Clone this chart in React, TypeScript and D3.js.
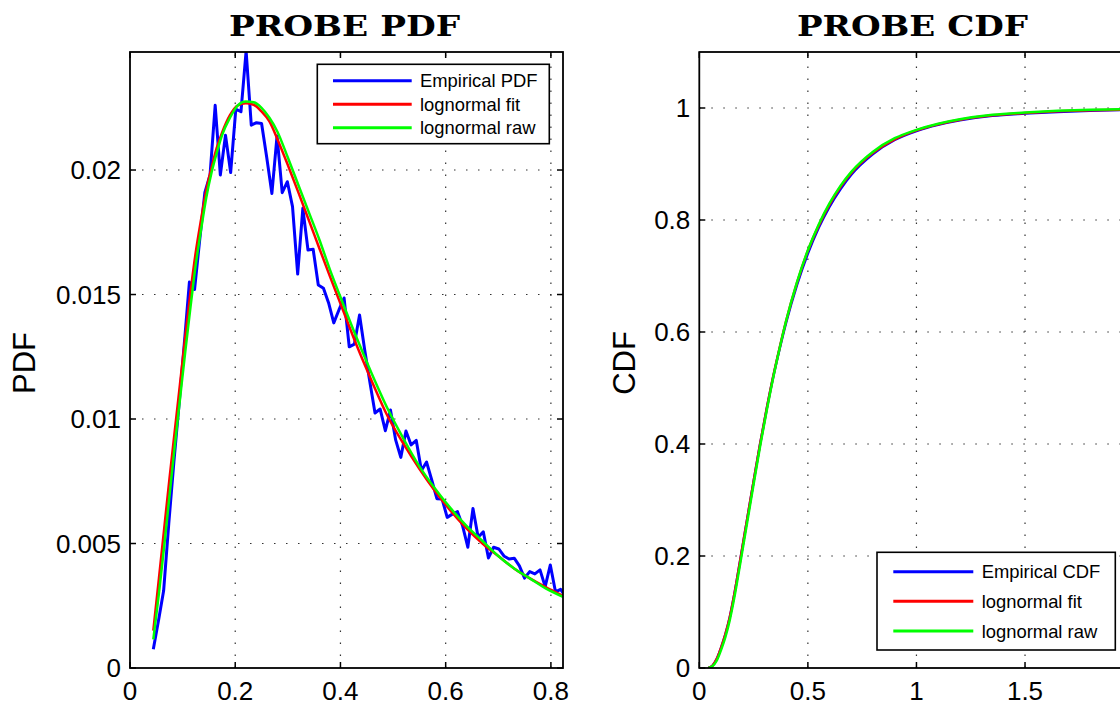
import React from 'react';
import * as d3 from 'd3';

// ---------------- DATA ----------------
// Empirical PDF (bin centres and values)
const pdfX = [
  0.0443, 0.0541, 0.0639, 0.0737, 0.0835, 0.0933, 0.1031, 0.1129, 0.1227, 0.1325,
  0.1423, 0.1521, 0.1619, 0.1717, 0.1815, 0.1913, 0.2011, 0.2109, 0.2207, 0.2305,
  0.2403, 0.2501, 0.2599, 0.2697, 0.2795, 0.2893, 0.2991, 0.3089, 0.3187, 0.3285,
  0.3383, 0.3481, 0.3579, 0.3677, 0.3775, 0.3873, 0.3971, 0.4069, 0.4167, 0.4265,
  0.4363, 0.4461, 0.4559, 0.4657, 0.4755, 0.4853, 0.4951, 0.5049, 0.5147, 0.5245,
  0.5343, 0.5441, 0.5539, 0.5637, 0.5735, 0.5833, 0.5931, 0.6029, 0.6127, 0.6225,
  0.6323, 0.6421, 0.6519, 0.6617, 0.6715, 0.6813, 0.6911, 0.7009, 0.7107, 0.7205,
  0.7303, 0.7401, 0.7499, 0.7597, 0.7695, 0.7793, 0.7891, 0.7989, 0.8087, 0.8185,
  0.8283,
];
const pdfEmpirical = [
  0.00075, 0.0019, 0.0031, 0.0058, 0.0083, 0.0106, 0.0130, 0.0155, 0.0152, 0.0172,
  0.0191, 0.0198, 0.0226, 0.0198, 0.0214, 0.0199, 0.02245, 0.02234, 0.02478, 0.0218,
  0.0219, 0.02187, 0.0205, 0.01906, 0.02137, 0.01909, 0.01953, 0.01853, 0.01582, 0.01846,
  0.01679, 0.01682, 0.01538, 0.01525, 0.01466, 0.01386, 0.01438, 0.01486, 0.0129, 0.01301,
  0.01418, 0.01277, 0.01149, 0.01024, 0.0104, 0.00953, 0.01036, 0.00916, 0.00846, 0.00952,
  0.00896, 0.00914, 0.00793, 0.00827, 0.00755, 0.0068, 0.00679, 0.00605, 0.00618, 0.00628,
  0.0057, 0.00485, 0.00641, 0.00525, 0.00547, 0.00442, 0.00485, 0.00478, 0.0045, 0.00438,
  0.00441, 0.0041, 0.00361, 0.00387, 0.00378, 0.00394, 0.00327, 0.00414, 0.00306, 0.00316,
  0.00285,
];
// Lognormal curves (PDF)
const pdfCurveX = [
  0.0443, 0.055, 0.065, 0.075, 0.085, 0.095, 0.105, 0.115, 0.125, 0.135,
  0.145, 0.155, 0.165, 0.175, 0.19, 0.205, 0.22, 0.235, 0.25, 0.265,
  0.28, 0.30, 0.32, 0.34, 0.36, 0.38, 0.40, 0.43, 0.46, 0.49,
  0.52, 0.55, 0.58, 0.61, 0.64, 0.67, 0.70, 0.73, 0.76, 0.79, 0.823,
];
const pdfFit = [
  0.0015, 0.0036, 0.0056, 0.0076, 0.0095, 0.0114, 0.0133, 0.0151, 0.0167, 0.0180,
  0.0192, 0.0201, 0.0209, 0.0215, 0.0222, 0.0226, 0.02268, 0.02262, 0.02235, 0.02195,
  0.02125, 0.0202, 0.0191, 0.01798, 0.01685, 0.01573, 0.01464, 0.0130, 0.0115, 0.0101,
  0.0090, 0.0080, 0.0071, 0.0063, 0.0056, 0.0050, 0.0045, 0.0040, 0.0036, 0.00325, 0.0029,
];
const pdfRaw = [
  0.00115, 0.0030, 0.0049, 0.0069, 0.0089, 0.0108, 0.0127, 0.0145, 0.0162, 0.0176,
  0.0189, 0.0199, 0.0207, 0.0214, 0.0221, 0.0226, 0.02275, 0.02272, 0.0225, 0.0221,
  0.02155, 0.0205, 0.0194, 0.0183, 0.0172, 0.0160, 0.0149, 0.0133, 0.0118, 0.0104,
  0.0092, 0.0081, 0.0072, 0.0064, 0.0057, 0.0051, 0.0045, 0.0040, 0.0036, 0.0032, 0.00286,
];
// CDF curves
const cdfX = [
  0.0414, 0.06, 0.08, 0.10, 0.12, 0.14, 0.16, 0.19, 0.22, 0.25,
  0.28, 0.31, 0.34, 0.37, 0.40, 0.45, 0.50, 0.55, 0.60, 0.65,
  0.70, 0.80, 0.90, 1.0, 1.1, 1.2, 1.35, 1.5, 1.65, 1.8, 1.95, 2.0,
];
const cdfEmpirical = [
  0, 0.004, 0.016, 0.036, 0.060, 0.090, 0.129, 0.196, 0.265, 0.333,
  0.400, 0.462, 0.519, 0.570, 0.617, 0.684, 0.740, 0.786, 0.824, 0.855,
  0.881, 0.918, 0.943, 0.959, 0.970, 0.978, 0.986, 0.990, 0.993, 0.995, 0.9965, 0.997,
];
const cdfFit = [
  0, 0.004, 0.016, 0.036, 0.060, 0.090, 0.129, 0.196, 0.265, 0.333,
  0.400, 0.462, 0.520, 0.572, 0.620, 0.688, 0.745, 0.790, 0.828, 0.859,
  0.884, 0.920, 0.944, 0.960, 0.971, 0.979, 0.987, 0.991, 0.994, 0.996, 0.997, 0.9975,
];
const cdfRaw = [
  0, 0.003, 0.013, 0.032, 0.055, 0.085, 0.123, 0.190, 0.259, 0.328,
  0.396, 0.459, 0.518, 0.571, 0.620, 0.689, 0.746, 0.792, 0.830, 0.861,
  0.886, 0.922, 0.946, 0.961, 0.972, 0.980, 0.988, 0.992, 0.995, 0.997, 0.998, 0.998,
];

// Ticks
const pdfXTicks = [0, 0.2, 0.4, 0.6, 0.8];
const pdfXTickLabels = ['0', '0.2', '0.4', '0.6', '0.8'];
const pdfYTicks = [0, 0.005, 0.01, 0.015, 0.02];
const pdfYTickLabels = ['0', '0.005', '0.01', '0.015', '0.02'];
const cdfXTicks = [0, 0.5, 1, 1.5, 2];
const cdfXTickLabels = ['0', '0.5', '1', '1.5', '2'];
const cdfYTicks = [0, 0.2, 0.4, 0.6, 0.8, 1];
const cdfYTickLabels = ['0', '0.2', '0.4', '0.6', '0.8', '1'];

const pdfLegendLabels = ['Empirical PDF', 'lognormal fit', 'lognormal raw'];
const cdfLegendLabels = ['Empirical CDF', 'lognormal fit', 'lognormal raw'];

// ---------------- STYLE ----------------
const BLUE = '#0000ff';
const RED = '#ff0000';
const GREEN = '#00ff00';
const SANS = '"Liberation Sans", Arial, Helvetica, sans-serif';
const SERIF = '"DejaVu Serif", "Liberation Serif", serif';

type Series = { x: number[]; y: number[]; color: string; width: number; smooth: boolean };

type LegendSpec = {
  x0: number; x1: number; y0: number; y1: number;
  rowY: number[]; lineX0: number; lineX1: number; textX: number;
  labels: string[]; colors: string[];
};

type PanelProps = {
  id: string;
  box: { x0: number; x1: number; y0: number; y1: number };
  xDomain: [number, number];
  yDomain: [number, number];
  xTicks: number[]; xTickLabels: string[];
  yTicks: number[]; yTickLabels: string[];
  title: string; titleX: number;
  ylabel: string; ylabelX: number;
  series: Series[];
  legend: LegendSpec;
};

function Panel(p: PanelProps) {
  const { x0, x1, y0, y1 } = p.box;
  const xs = d3.scaleLinear().domain(p.xDomain).range([x0, x1]);
  const ys = d3.scaleLinear().domain(p.yDomain).range([y1, y0]);
  const tickLen = 6;
  const grid = '#333';
  const xt = p.xTicks.map((t, i) => ({ t, label: p.xTickLabels[i] })).filter(d => d.t >= p.xDomain[0] && d.t <= p.xDomain[1]);
  const yt = p.yTicks.map((t, i) => ({ t, label: p.yTickLabels[i] })).filter(d => d.t >= p.yDomain[0] && d.t <= p.yDomain[1]);
  const clip = `clip-${p.id}`;
  return (
    <g>
      <defs>
        <clipPath id={clip}>
          <rect x={x0} y={y0} width={x1 - x0} height={y1 - y0} />
        </clipPath>
      </defs>
      <rect x={x0} y={y0} width={x1 - x0} height={y1 - y0} fill="#fff" />
      {/* grid */}
      {xt.filter(d => d.t > p.xDomain[0]).map(d => (
        <line key={'gx' + d.t} x1={xs(d.t)} x2={xs(d.t)} y1={y1} y2={y0}
          stroke={grid} strokeWidth={1.2} strokeDasharray="1.5 10.5" />
      ))}
      {yt.filter(d => d.t > p.yDomain[0]).map(d => (
        <line key={'gy' + d.t} x1={x0} x2={x1} y1={ys(d.t)} y2={ys(d.t)}
          stroke={grid} strokeWidth={1.2} strokeDasharray="1.5 10.5" />
      ))}
      {/* data */}
      <g clipPath={`url(#${clip})`}>
        {p.series.map((s, i) => {
          const pts = s.x.map((xv, j) => [xv, s.y[j]] as [number, number]);
          const line = d3.line<[number, number]>()
            .x(d => xs(d[0]))
            .y(d => ys(d[1]))
            .curve(s.smooth ? d3.curveMonotoneX : d3.curveLinear);
          return <path key={i} d={line(pts) || ''} fill="none" stroke={s.color}
            strokeWidth={s.width} strokeLinejoin="round" strokeLinecap="butt" />;
        })}
      </g>
      {/* box */}
      <rect x={x0} y={y0} width={x1 - x0} height={y1 - y0} fill="none" stroke="#000" strokeWidth={1.8} />
      {/* ticks */}
      {xt.map(d => (
        <g key={'tx' + d.t}>
          <line x1={xs(d.t)} x2={xs(d.t)} y1={y1} y2={y1 - tickLen} stroke="#000" strokeWidth={1.5} />
          <line x1={xs(d.t)} x2={xs(d.t)} y1={y0} y2={y0 + tickLen} stroke="#000" strokeWidth={1.5} />
          <text x={xs(d.t)} y={700} textAnchor="middle" fontFamily={SANS} fontSize={26} fill="#000">{d.label}</text>
        </g>
      ))}
      {yt.map(d => (
        <g key={'ty' + d.t}>
          <line x1={x0} x2={x0 + tickLen} y1={ys(d.t)} y2={ys(d.t)} stroke="#000" strokeWidth={1.5} />
          <line x1={x1} x2={x1 - tickLen} y1={ys(d.t)} y2={ys(d.t)} stroke="#000" strokeWidth={1.5} />
          <text x={x0 - 9} y={ys(d.t) + 9.3} textAnchor="end" fontFamily={SANS} fontSize={26} fill="#000">{d.label}</text>
        </g>
      ))}
      {/* title */}
      <text x={p.titleX} y={36} textAnchor="middle" fontFamily={SERIF} fontWeight="bold" fontSize={27}
        textLength={231} lengthAdjust="spacingAndGlyphs" fill="#000">{p.title}</text>
      {/* y label */}
      <text transform={`translate(${p.ylabelX},363) rotate(-90)`} textAnchor="middle" fontFamily={SANS}
        fontSize={31} fill="#000">{p.ylabel}</text>
      {/* legend */}
      <rect x={p.legend.x0} y={p.legend.y0} width={p.legend.x1 - p.legend.x0} height={p.legend.y1 - p.legend.y0}
        fill="#fff" stroke="#000" strokeWidth={1.6} />
      {p.legend.labels.map((lab, i) => (
        <g key={lab}>
          <line x1={p.legend.lineX0} x2={p.legend.lineX1} y1={p.legend.rowY[i]} y2={p.legend.rowY[i]}
            stroke={p.legend.colors[i]} strokeWidth={3} />
          <text x={p.legend.textX} y={p.legend.rowY[i] + 6.6} fontFamily={SANS} fontSize={18.4} fill="#000">{lab}</text>
        </g>
      ))}
    </g>
  );
}

export default function App() {
  const pdfSeries: Series[] = [
    { x: pdfX, y: pdfEmpirical, color: BLUE, width: 3, smooth: false },
    { x: pdfCurveX, y: pdfFit, color: RED, width: 2.5, smooth: true },
    { x: pdfCurveX, y: pdfRaw, color: GREEN, width: 2.5, smooth: true },
  ];
  const cdfSeries: Series[] = [
    { x: cdfX, y: cdfEmpirical, color: BLUE, width: 2.5, smooth: true },
    { x: cdfX, y: cdfFit, color: RED, width: 2.5, smooth: true },
    { x: cdfX, y: cdfRaw, color: GREEN, width: 2.5, smooth: true },
  ];
  const colors = [BLUE, RED, GREEN];
  return (
    <svg width={1120} height={704} viewBox="0 0 1120 704"
      style={{ position: 'absolute', left: 0, top: 0, background: '#fff', display: 'block' }}>
      <rect x={0} y={0} width={1120} height={704} fill="#fff" />
      <Panel
        id="pdf"
        box={{ x0: 130, x1: 563, y0: 52, y1: 668 }}
        xDomain={[0, 0.823]}
        yDomain={[0, 0.02474]}
        xTicks={pdfXTicks} xTickLabels={pdfXTickLabels}
        yTicks={pdfYTicks} yTickLabels={pdfYTickLabels}
        title="PROBE PDF" titleX={344.5}
        ylabel="PDF" ylabelX={35}
        series={pdfSeries}
        legend={{
          x0: 317.3, x1: 549.3, y0: 64.3, y1: 143.7,
          rowY: [80.7, 104.3, 127.7], lineX0: 333, lineX1: 411.7, textX: 420,
          labels: pdfLegendLabels, colors,
        }}
      />
      <Panel
        id="cdf"
        box={{ x0: 699.3, x1: 1126, y0: 52, y1: 668 }}
        xDomain={[0, 1.965]}
        yDomain={[0, 1.1]}
        xTicks={cdfXTicks} xTickLabels={cdfXTickLabels}
        yTicks={cdfYTicks} yTickLabels={cdfYTickLabels}
        title="PROBE CDF" titleX={912.5}
        ylabel="CDF" ylabelX={635}
        series={cdfSeries}
        legend={{
          x0: 877, x1: 1115.3, y0: 552.3, y1: 650,
          rowY: [571.7, 601.3, 631], lineX0: 893.3, lineX1: 973.3, textX: 981.7,
          labels: cdfLegendLabels, colors,
        }}
      />
    </svg>
  );
}
